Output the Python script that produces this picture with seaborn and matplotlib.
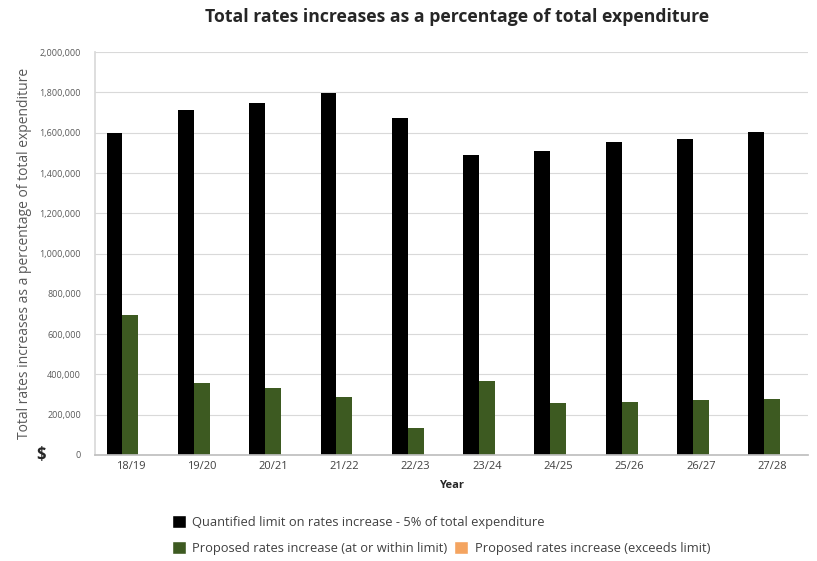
import matplotlib
matplotlib.use("Agg")
import matplotlib.pyplot as plt
import pandas as pd
import seaborn as sns
from matplotlib.patches import Patch
from matplotlib.ticker import FuncFormatter, MultipleLocator

years = ["18/19", "19/20", "20/21", "21/22", "22/23",
         "23/24", "24/25", "25/26", "26/27", "27/28"]
limit = [1600000, 1712000, 1748000, 1795000, 1671000,
         1489000, 1509000, 1555000, 1568000, 1604000]
proposed = [695000, 356000, 331000, 286000, 132000,
            369000, 257000, 265000, 273000, 279000]
exceeds = [0, 0, 0, 0, 0, 0, 0, 0, 0, 0]

series_names = [
    "Quantified limit on rates increase - 5% of total expenditure",
    "Proposed rates increase (at or within limit)",
    "Proposed rates increase (exceeds limit)",
]
colors = ["#000000", "#3d5a21", "#f4a460"]

df = pd.DataFrame({
    "Year": years * 3,
    "value": limit + proposed + exceeds,
    "series": [n for n in series_names for _ in years],
})

sns.set_theme(style="white")
plt.rcParams["font.family"] = ["Open Sans", "DejaVu Sans"]

fig = plt.figure(figsize=(8.17, 5.61), dpi=100)
ax = fig.add_axes([0.116, 0.189, 0.873, 0.718])

sns.barplot(
    data=df, x="Year", y="value", hue="series",
    hue_order=series_names, palette=colors,
    width=0.67, saturation=1, legend=False, linewidth=0, ax=ax,
)

ax.set_ylim(0, 2000000)
ax.yaxis.set_major_locator(MultipleLocator(200000))
ax.yaxis.set_major_formatter(FuncFormatter(lambda v, p: f"{int(v):,}"))
ax.grid(True, axis="y", color="#d9d9d9", linewidth=0.8)
ax.set_axisbelow(True)
for s in ["top", "right"]:
    ax.spines[s].set_visible(False)
ax.spines["left"].set_color("#d9d9d9")
ax.spines["bottom"].set_color("#bfbfbf")
ax.set_xlim(-0.5, len(years) - 0.5)

ax.tick_params(axis="y", labelsize=6.5, labelcolor="#595959", length=0, pad=10)
ax.tick_params(axis="x", which="major", labelsize=8, labelcolor="#404040", length=0, pad=4)
ax.set_xticks([i + 0.5 for i in range(len(years) - 1)], minor=True)
ax.tick_params(axis="x", which="minor", length=4, color="#bfbfbf")

ax.set_ylabel("Total rates increases as a percentage of total expenditure",
              fontsize=10, color="#595959", labelpad=5)
ax.set_xlabel("Year", fontsize=8, fontweight="bold", color="#262626", labelpad=6)
ax.text(-0.075, 0, "$", transform=ax.get_yaxis_transform(), fontsize=12,
        fontweight="bold", ha="center", va="center", color="#262626")

fig.suptitle("Total rates increases as a percentage of total expenditure",
             x=0.56, y=0.985, fontsize=12.7, fontweight="bold", color="#262626")

h = [Patch(facecolor=c) for c in colors]
common = dict(loc="center left", frameon=False, fontsize=9.3,
              handlelength=1.1, handleheight=1.1, handletextpad=0.5,
              borderpad=0, borderaxespad=0, labelcolor="#404040")
fig.legend(handles=h[:1], labels=series_names[:1],
           bbox_to_anchor=(0.21, 0.0695), **common)
fig.legend(handles=h[1:], labels=series_names[1:], ncol=2, columnspacing=0.5,
           bbox_to_anchor=(0.21, 0.023), **common)

fig.savefig("out.png", dpi=100)
